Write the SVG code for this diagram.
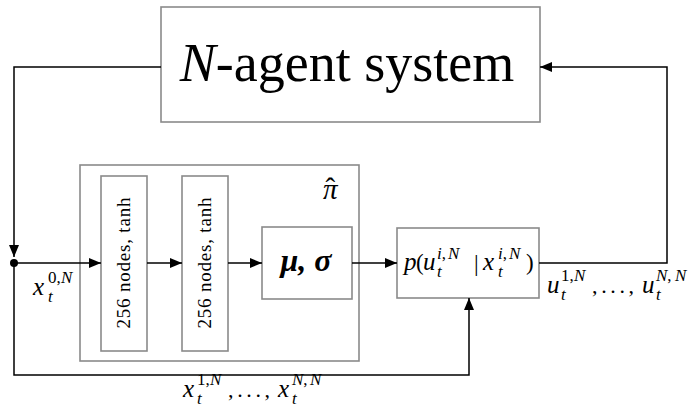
<svg xmlns="http://www.w3.org/2000/svg" width="689" height="414" viewBox="0 0 689 414" font-family="Liberation Serif, serif">
<defs>
<marker id="ah" viewBox="0 0 12 10" refX="12" refY="5" markerWidth="12" markerHeight="10" markerUnits="userSpaceOnUse" orient="auto">
<path d="M0,0 L12,5 L0,10 z" fill="#000"/>
</marker>
<style>
.box{fill:#fff;stroke:#8a8a8a;stroke-width:1.6}
.ln{fill:none;stroke:#000;stroke-width:1.5}
</style>
</defs>
<rect width="689" height="414" fill="#fff"/>

<g id="system">
<rect class="box" x="161" y="7" width="379" height="115"/>
<text x="347" y="81" text-anchor="middle" font-family="Liberation Serif, serif" font-size="54"><tspan font-style="italic">N</tspan>-agent system</text>
</g>

<g id="policy">
<rect class="box" x="80" y="165" width="279" height="196" style="fill:none"/>
<text x="323" y="199" font-family="Liberation Serif, serif" font-style="italic" font-size="29">π<tspan font-style="normal" dx="-12" dy="-1">ˆ</tspan></text>
</g>

<g id="layer1">
<rect class="box" x="101" y="176" width="46" height="175"/>
<text font-family="Liberation Serif, serif" font-size="19" transform="translate(130,263) rotate(-90)" text-anchor="middle" textLength="131">256 nodes, tanh</text>
</g>

<g id="layer2">
<rect class="box" x="182" y="176" width="46" height="175"/>
<text font-family="Liberation Serif, serif" font-size="19" transform="translate(211,263) rotate(-90)" text-anchor="middle" textLength="131">256 nodes, tanh</text>
</g>

<g id="musigma">
<rect class="box" x="262" y="227" width="90" height="72"/>
<text x="306" y="271" text-anchor="middle" font-family="Liberation Serif, serif" font-style="italic" font-weight="bold" font-size="32">μ, σ</text>
</g>

<g id="pdist" font-family="Liberation Serif, serif">
<rect class="box" x="397" y="228" width="142" height="70"/>
<g font-style="italic" font-size="25">
<text x="404" y="270">p</text>
<text x="423" y="270">u</text>
<text x="483" y="270">x</text>
</g>
<g font-style="normal" font-size="23">
<text x="416" y="270">(</text>
<text x="474" y="271">|</text>
<text x="526" y="270">)</text>
</g>
<g font-style="italic" font-size="17">
<text x="437" y="259">i<tspan font-style="normal">,</tspan></text>
<text x="448" y="259">N</text>
<text x="437" y="277">t</text>
<text x="498" y="259">i<tspan font-style="normal">,</tspan></text>
<text x="509" y="259">N</text>
<text x="498" y="277">t</text>
</g>
</g>

<g id="connectors">
<path class="ln" d="M161,67 H14 V257" marker-end="url(#ah)"/>
<circle cx="14" cy="263" r="4" fill="#000"/>
<path class="ln" d="M14,263 H101" marker-end="url(#ah)"/>
<path class="ln" d="M14,263 V375 H469 V298" marker-end="url(#ah)"/>
<path class="ln" d="M147,263 H182" marker-end="url(#ah)"/>
<path class="ln" d="M228,263 H262" marker-end="url(#ah)"/>
<path class="ln" d="M352,263 H397" marker-end="url(#ah)"/>
<path class="ln" d="M539,263 H667 V67 H540" marker-end="url(#ah)"/>
</g>

<g id="labels" font-family="Liberation Serif, serif">
<g font-style="italic" font-size="25">
<text x="33" y="295">x</text>
<text x="547" y="293">u</text>
<text x="642" y="293">u</text>
<text x="183" y="397">x</text>
<text x="278" y="397">x</text>
</g>
<g font-style="normal" font-size="17">
<text x="48" y="283">0,</text>
<text x="561" y="281">1,</text>
<text x="197" y="385">1,</text>
</g>
<g font-style="italic" font-size="17">
<text x="61" y="283">N</text>
<text x="48" y="302">t</text>
<text x="574" y="281">N</text>
<text x="561" y="300">t</text>
<text x="656" y="281">N<tspan font-style="normal">,</tspan></text>
<text x="675" y="281">N</text>
<text x="656" y="300">t</text>
<text x="210" y="385">N</text>
<text x="197" y="404">t</text>
<text x="292" y="385">N<tspan font-style="normal">,</tspan></text>
<text x="310" y="385">N</text>
<text x="292" y="404">t</text>
</g>
<g font-style="normal" font-size="22">
<text x="592" y="293" textLength="42">, . . . ,</text>
<text x="228" y="397" textLength="42">, . . . ,</text>
</g>
</g>
</svg>
